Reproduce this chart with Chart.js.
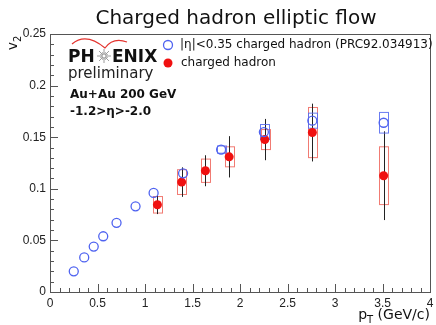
<!DOCTYPE html>
<html>
<head>
  <title>Charged hadron elliptic flow</title>
  <script src="https://cdn.jsdelivr.net/npm/chart.js@4"></script>
  <style>
    body { margin: 0; background: #fff; }
    #wrap { width: 436px; height: 325px; }
  </style>
</head>
<body>
  <div id="wrap"><canvas id="chart"></canvas></div>

  <script>
    // |eta|<0.35 charged hadron v2 (PRC92.034913)
    const ptMid = [0.25, 0.36, 0.46, 0.56, 0.70, 0.90, 1.09, 1.40, 1.80, 2.25, 2.76, 3.51];
    const v2Mid = [0.020, 0.0335, 0.044, 0.054, 0.067, 0.083, 0.096, 0.115, 0.138, 0.155, 0.166, 0.164];
    const sysMid = [0, 0, 0, 0, 0, 0, 0, 0, 0.0035, 0.0073, 0.0073, 0.010];

    // backward rapidity -1.2>eta>-2.0, preliminary
    const ptFwd = [1.13, 1.385, 1.635, 1.885, 2.26, 2.76, 3.51];
    const v2Fwd = [0.0845, 0.1065, 0.1175, 0.131, 0.1477, 0.1545, 0.1127];
    const statFwd = [0.009, 0.0143, 0.015, 0.020, 0.020, 0.028, 0.043];
    const sysFwd = [0.008, 0.012, 0.0113, 0.0097, 0.0097, 0.0243, 0.028];

    const boxHalf = 0.045;   // half width of systematic boxes in pT
    const axisColor = '#555';

    const errorBoxes = {
      id: 'errorBoxes',
      beforeDatasetsDraw(chart) {
        const { ctx, scales: { x, y } } = chart;
        ctx.save();
        ctx.lineWidth = 1;

        ctx.strokeStyle = 'rgba(238,100,90,0.85)';
        ptFwd.forEach((pt, i) => {
          const x0 = x.getPixelForValue(pt - boxHalf), x1 = x.getPixelForValue(pt + boxHalf);
          const y0 = y.getPixelForValue(v2Fwd[i] + sysFwd[i]), y1 = y.getPixelForValue(v2Fwd[i] - sysFwd[i]);
          ctx.strokeRect(Math.round(x0) + 0.5, y0, Math.round(x1 - x0), y1 - y0);
        });

        ctx.strokeStyle = '#222';
        ptFwd.forEach((pt, i) => {
          const px = Math.round(x.getPixelForValue(pt)) + 0.5;
          ctx.beginPath();
          ctx.moveTo(px, y.getPixelForValue(v2Fwd[i] + statFwd[i]));
          ctx.lineTo(px, y.getPixelForValue(v2Fwd[i] - statFwd[i]));
          ctx.stroke();
        });

        ctx.strokeStyle = 'rgba(90,110,240,0.9)';
        ptMid.forEach((pt, i) => {
          if (!sysMid[i]) return;
          const x0 = x.getPixelForValue(pt - boxHalf), x1 = x.getPixelForValue(pt + boxHalf);
          const y0 = y.getPixelForValue(v2Mid[i] + sysMid[i]), y1 = y.getPixelForValue(v2Mid[i] - sysMid[i]);
          ctx.strokeRect(Math.round(x0) + 0.5, y0, Math.round(x1 - x0), y1 - y0);
        });
        ctx.restore();
      }
    };

    function subText(ctx, base, sub, x, y, size, font) {
      ctx.font = size + 'px ' + font;
      ctx.fillText(base, x, y);
      const w = ctx.measureText(base).width;
      ctx.font = Math.round(size * 0.7) + 'px ' + font;
      ctx.fillText(sub, x + w, y + size * 0.25);
      return w + ctx.measureText(sub).width;
    }

    const frameAndText = {
      id: 'frameAndText',
      afterDraw(chart) {
        const { ctx, chartArea: a, scales: { x, y } } = chart;
        ctx.save();

        // frame
        ctx.strokeStyle = axisColor;
        ctx.lineWidth = 1;
        ctx.strokeRect(Math.round(a.left) + 0.5, Math.round(a.top) + 0.5,
          Math.round(a.right - a.left), Math.round(a.bottom - a.top));

        // inward ticks
        ctx.beginPath();
        for (let k = 0; k <= 25; k++) {
          const py = Math.round(y.getPixelForValue(k * 0.01)) + 0.5;
          const len = k % 5 === 0 ? 8 : 4;
          ctx.moveTo(a.left, py);
          ctx.lineTo(a.left + len, py);
        }
        for (let k = 0; k <= 40; k++) {
          const px = Math.round(x.getPixelForValue(k * 0.1)) + 0.5;
          const len = k % 5 === 0 ? 8 : 4;
          ctx.moveTo(px, a.bottom);
          ctx.lineTo(px, a.bottom - len);
        }
        ctx.stroke();

        // title
        ctx.fillStyle = '#111';
        ctx.textAlign = 'center';
        ctx.textBaseline = 'alphabetic';
        ctx.font = '20px "DejaVu Sans"';
        ctx.fillText('Charged hadron elliptic flow', 236, 24);

        // axis titles
        ctx.textAlign = 'left';
        const xw = (() => {
          ctx.font = '14px "DejaVu Sans"';
          const w1 = ctx.measureText('p').width;
          ctx.font = '10px "DejaVu Sans"';
          const w2 = ctx.measureText('T').width;
          ctx.font = '14px "DejaVu Sans"';
          return w1 + w2 + ctx.measureText(' (GeV/c)').width;
        })();
        let sx = 430 - xw;
        const used = subText(ctx, 'p', 'T', sx, 319, 14, '"DejaVu Sans"');
        ctx.font = '14px "DejaVu Sans"';
        ctx.fillText(' (GeV/c)', sx + used, 319);

        ctx.save();
        ctx.translate(17, 34);
        ctx.rotate(-Math.PI / 2);
        ctx.textAlign = 'left';
        ctx.font = '14px "DejaVu Sans"';
        const vw = ctx.measureText('v').width + 6;
        subText(ctx, 'v', '2', -vw - 2, 0, 14, '"DejaVu Sans"');
        ctx.restore();

        // PHENIX logo
        ctx.strokeStyle = '#e3342f';
        ctx.lineWidth = 1.2;
        ctx.beginPath();
        ctx.moveTo(72, 44);
        ctx.quadraticCurveTo(86, 32, 105, 48);
        ctx.quadraticCurveTo(113, 37, 127, 42);
        ctx.stroke();

        ctx.fillStyle = '#111';
        ctx.font = 'bold 17px "DejaVu Sans"';
        ctx.fillText('PH', 68, 62);
        ctx.fillText('ENIX', 112, 62);
        ctx.strokeStyle = '#9a9a9a';
        ctx.lineWidth = 1;
        ctx.beginPath();
        for (let r = 0; r < 16; r++) {
          const ang = r * Math.PI / 8;
          const len = r % 2 ? 4 : 7;
          ctx.moveTo(104 + Math.cos(ang) * 1.5, 56 + Math.sin(ang) * 1.5);
          ctx.lineTo(104 + Math.cos(ang) * len, 56 + Math.sin(ang) * len);
        }
        ctx.stroke();

        ctx.font = '15px "DejaVu Sans"';
        ctx.fillStyle = '#222';
        ctx.fillText('preliminary', 68, 78);

        ctx.fillStyle = '#111';
        ctx.font = 'bold 12px "DejaVu Sans"';
        ctx.fillText('Au+Au 200 GeV', 70, 98);
        ctx.fillText('-1.2>η>-2.0', 70, 115);

        // legend
        ctx.lineWidth = 1.3;
        ctx.strokeStyle = '#4f63f0';
        ctx.beginPath();
        ctx.arc(168, 45, 4.5, 0, Math.PI * 2);
        ctx.stroke();
        ctx.fillStyle = '#f01010';
        ctx.beginPath();
        ctx.arc(168, 63, 4.5, 0, Math.PI * 2);
        ctx.fill();

        ctx.fillStyle = '#111';
        ctx.font = '12px "DejaVu Sans"';
        ctx.textBaseline = 'middle';
        ctx.fillText('|η|<0.35 charged hadron (PRC92.034913)', 180, 45);
        ctx.fillText('charged hadron', 181, 63);

        ctx.restore();
      }
    };

    // plain tick numbers: 0, 0.5, 1, 1.5 ... and 0, 0.05, 0.1 ...
    const plainTick = (v) => String(parseFloat(Number(v).toFixed(3)));

    const ctx = document.getElementById('chart').getContext('2d');

    const chart = new Chart(ctx, {
      type: 'scatter',
      data: {
        datasets: [{
          label: '|η|<0.35 charged hadron (PRC92.034913)',
          data: ptMid.map((pt, i) => ({ x: pt, y: v2Mid[i] })),
          pointStyle: 'circle',
          pointRadius: 4.5,
          borderWidth: 1.3,
          borderColor: '#4f63f0',
          backgroundColor: 'rgba(0,0,0,0)'
        }, {
          label: 'charged hadron',
          data: ptFwd.map((pt, i) => ({ x: pt, y: v2Fwd[i] })),
          pointStyle: 'circle',
          pointRadius: 4.5,
          borderWidth: 0,
          backgroundColor: '#f01010'
        }]
      },
      options: {
        responsive: true,
        maintainAspectRatio: false,
        animation: false,
        layout: { padding: { top: 34, right: 4, left: 0, bottom: 0 } },
        plugins: {
          legend: { display: false },
          title: { display: false },
          tooltip: { enabled: false }
        },
        scales: {
          x: {
            type: 'linear',
            min: 0,
            max: 4,
            afterFit: (s) => { s.height = 33; s.paddingLeft = 0; s.paddingRight = 0; },
            ticks: { stepSize: 0.5, maxRotation: 0, padding: 4, color: '#222',
              callback: plainTick,
              font: { family: 'Liberation Sans', size: 12 } },
            grid: { display: true, drawOnChartArea: false, drawTicks: false },
            border: { display: false }
          },
          y: {
            min: 0,
            max: 0.25,
            afterFit: (s) => { s.width = 50; s.paddingTop = 0; s.paddingBottom = 0; },
            ticks: { stepSize: 0.05, padding: 4, color: '#222',
              callback: plainTick,
              font: { family: 'Liberation Sans', size: 12 } },
            grid: { display: true, drawOnChartArea: false, drawTicks: false },
            border: { display: false }
          }
        }
      },
      plugins: [errorBoxes, frameAndText]
    });
  </script>
</body>
</html>
